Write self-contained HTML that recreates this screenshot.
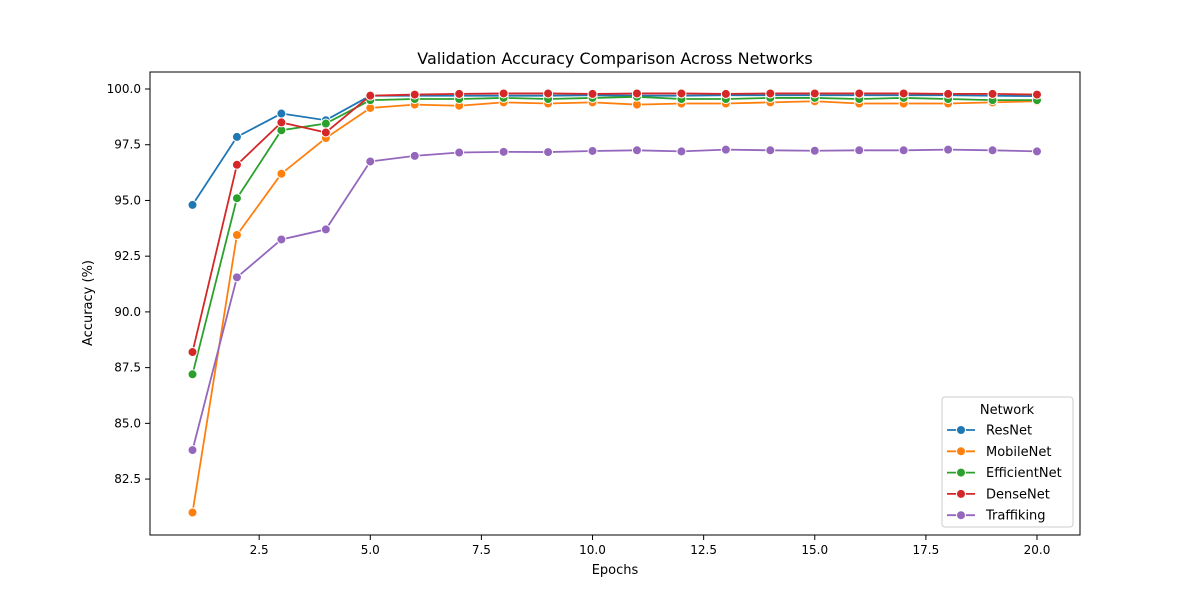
<!DOCTYPE html>
<html><head><meta charset="utf-8"><style>
body{margin:0;background:#fff;font-family:"Liberation Sans","DejaVu Sans",sans-serif}
svg text{font-family:"DejaVu Sans","Liberation Sans",sans-serif}
</style></head><body>
<svg id="chart" width="1200" height="600" xmlns="http://www.w3.org/2000/svg">
<rect width="1200" height="600" fill="#fff"/>
<g id="grid"></g>
<g id="series"></g>
<rect x="150" y="72" width="930" height="463" fill="none" stroke="#000" stroke-width="1"/>
<text x="615" y="64" text-anchor="middle" font-size="16">Validation Accuracy Comparison Across Networks</text>
<text x="615" y="574" text-anchor="middle" font-size="13">Epochs</text>
<text transform="translate(92,303) rotate(-90)" text-anchor="middle" font-size="13">Accuracy (%)</text>
<g id="legend"></g>
</svg>
<script>
const epochs=[1,2,3,4,5,6,7,8,9,10,11,12,13,14,15,16,17,18,19,20];
const names=["ResNet","MobileNet","EfficientNet","DenseNet","Traffiking"];
const colors=["#1f77b4","#ff7f0e","#2ca02c","#d62728","#9467bd"];
const resnet=[94.8,97.85,98.9,98.6,99.7,99.7,99.7,99.7,99.7,99.72,99.7,99.7,99.72,99.72,99.72,99.72,99.72,99.72,99.7,99.68];
const mobilenet=[81.0,93.45,96.2,97.8,99.15,99.3,99.25,99.4,99.35,99.4,99.3,99.35,99.35,99.4,99.45,99.35,99.35,99.35,99.4,99.45];
const efficientnet=[87.2,95.1,98.15,98.45,99.5,99.55,99.55,99.6,99.55,99.6,99.65,99.55,99.55,99.6,99.6,99.55,99.6,99.55,99.5,99.5];
const densenet=[88.2,96.6,98.5,98.05,99.7,99.75,99.78,99.8,99.8,99.78,99.8,99.8,99.78,99.8,99.8,99.8,99.8,99.78,99.78,99.75];
const traffiking=[83.8,91.55,93.25,93.7,96.75,97.0,97.15,97.18,97.17,97.22,97.25,97.2,97.28,97.25,97.23,97.25,97.25,97.28,97.25,97.2];
const xTicks=[2.5,5.0,7.5,10.0,12.5,15.0,17.5,20.0];
const yTicks=[82.5,85.0,87.5,90.0,92.5,95.0,97.5,100.0];
const allSeries=[resnet,mobilenet,efficientnet,densenet,traffiking];
const NS="http://www.w3.org/2000/svg";
const xs=v=>192.5+(v-1)*(1037-192.5)/19;
const ys=v=>89+(100-v)*22.29;
function mk(t,a,p){const e=document.createElementNS(NS,t);for(const k in a)e.setAttribute(k,a[k]);(p||document.getElementById('chart')).appendChild(e);return e;}
const grid=document.getElementById('grid');
xTicks.forEach(t=>{
 const l=mk('line',{x1:xs(t),x2:xs(t),y1:535,y2:540,stroke:'#000'},grid);
 
 
 const tx=mk('text',{x:xs(t),y:554,'text-anchor':'middle','font-size':12},grid);tx.textContent=t.toFixed(1);
 
 
});
yTicks.forEach(t=>{
 const l=mk('line',{x1:145,x2:150,y1:ys(t),y2:ys(t),stroke:'#000'},grid);
 
 
 const tx=mk('text',{x:141,y:ys(t)+4,'text-anchor':'end','font-size':12},grid);tx.textContent=t.toFixed(1);
 
 
});
const sg=document.getElementById('series');
allSeries.forEach((s,i)=>{
 const g=mk('g',{},sg);
 
 
 const p=mk('polyline',{points:s.map((v,j)=>xs(epochs[j])+','+ys(v)).join(' '),fill:'none',stroke:colors[i],'stroke-width':1.8},g);
 
 
 s.forEach((v,j)=>{
  const c=mk('circle',{cx:xs(epochs[j]),cy:ys(v),r:4.5,fill:colors[i],stroke:'#fff','stroke-width':1},g);
  
  
 });
});
const lg=document.getElementById('legend');
mk('rect',{x:942,y:397,width:131,height:130,rx:3,fill:'#fff','fill-opacity':0.85,stroke:'#ccc'},lg);
const lt=mk('text',{x:1007,y:414,'text-anchor':'middle','font-size':13},lg);lt.textContent='Network';
names.forEach((n,i)=>{
 const y=430+i*21.3;
 const g=mk('g',{},lg);
 
 
 mk('line',{x1:947,x2:975,y1:y,y2:y,stroke:colors[i],'stroke-width':1.8},g);
 mk('circle',{cx:961,cy:y,r:4.5,fill:colors[i],stroke:'#fff','stroke-width':1},g);
 const t=mk('text',{x:986,y:y+4.5,'font-size':13},g);t.textContent=n;
});
</script>
</body></html>
